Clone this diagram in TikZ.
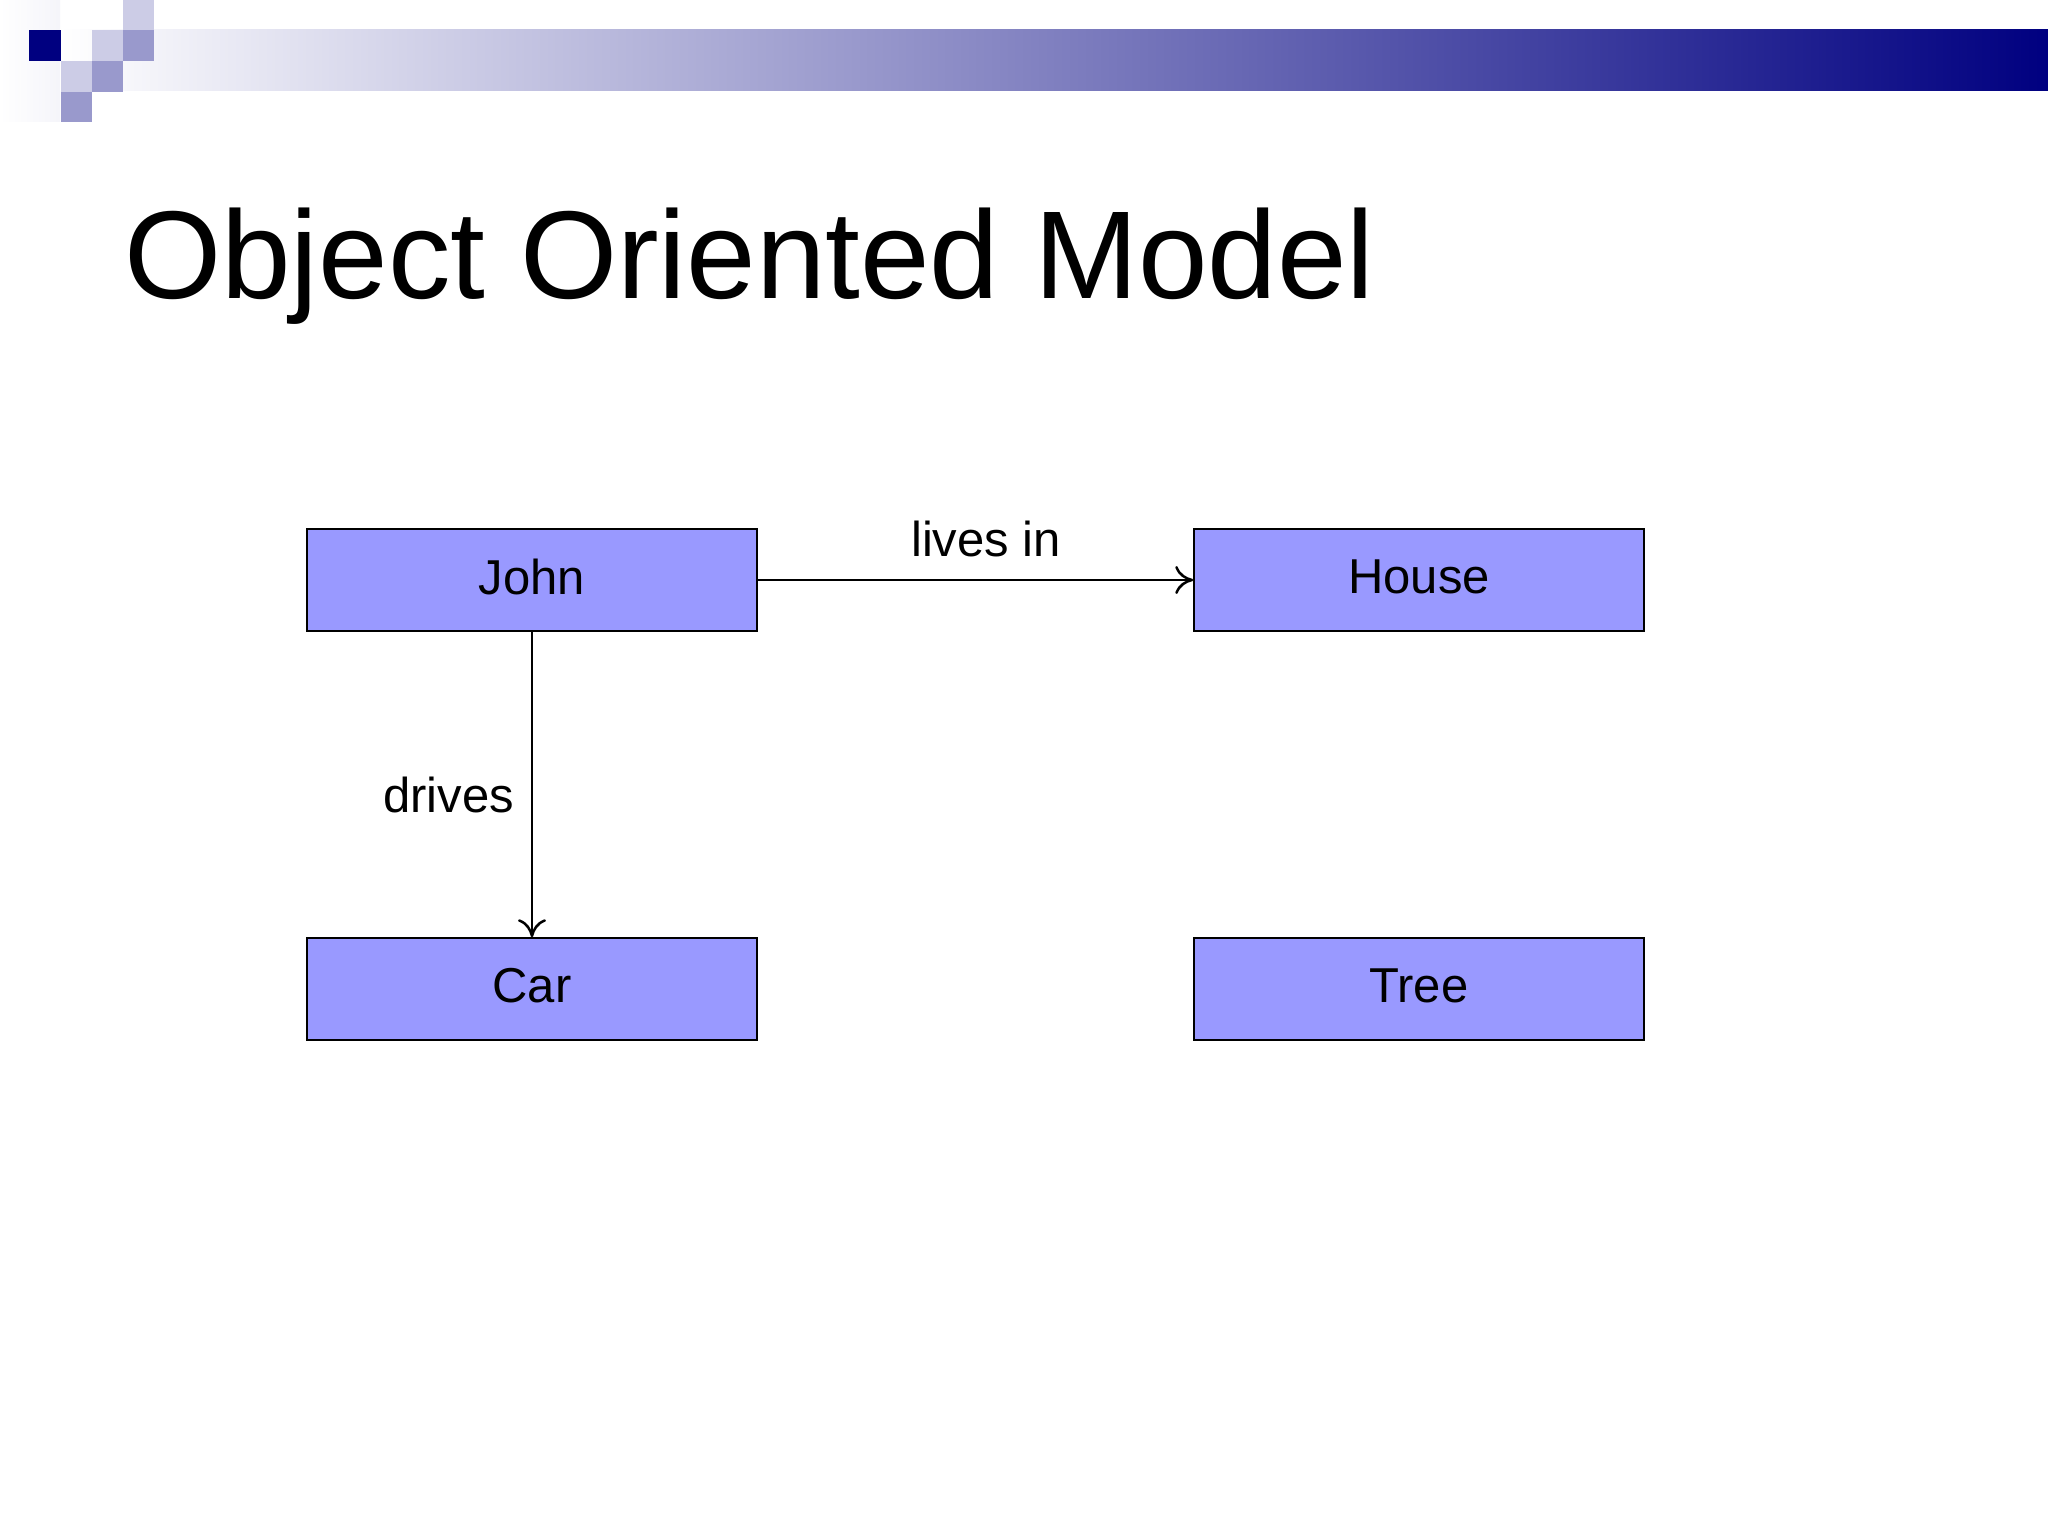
\documentclass[tikz,border=0pt]{standalone}
\usepackage{fontspec}
\setmainfont{Liberation Sans}
\usetikzlibrary{arrows.meta}
\definecolor{navy}{RGB}{0,0,128}
\definecolor{boxfill}{RGB}{153,153,255}
\definecolor{sqlight}{RGB}{204,204,230}
\definecolor{sqmed}{RGB}{153,153,204}
\begin{document}
\begin{tikzpicture}[x=1pt,y=-1pt,
  obj/.style={draw=black,line width=1.5pt,fill=boxfill,minimum width=450pt,minimum height=102pt,inner sep=0pt,font=\fontsize{49}{58}\selectfont},
  lbl/.style={font=\fontsize{49}{58}\selectfont,inner sep=0pt},
  conn/.style={line width=1.5pt,-{To[length=18pt,width=28pt,line width=2.5pt]}}]
\useasboundingbox (0,0) rectangle (2048,1536);
\fill[white] (0,0) rectangle (2048,1536);
\shade[left color=white,right color=white!90!sqmed] (0,0) rectangle (60,122);
\shade[left color=white,right color=navy] (60,30) rectangle (2048,91);
\fill[navy] (29,30) rectangle (61,61);
\fill[sqlight] (123,0) rectangle (154,30);
\fill[sqlight] (92,30) rectangle (123,61);
\fill[sqmed] (123,30) rectangle (154,61);
\fill[sqlight] (61,61) rectangle (92,92);
\fill[sqmed] (92,61) rectangle (123,92);
\fill[sqmed] (61,92) rectangle (92,122);
\node[anchor=base west,inner sep=0pt,font=\fontsize{125}{140}\selectfont] (title) at (124,298) {Object Oriented Model};
\node[obj] (john) at (532,580) {\raisebox{7pt}{John}};
\node[obj] (house) at (1419,580) {\raisebox{7pt}{House}};
\node[obj] (car) at (532,989) {\raisebox{7pt}{Car}};
\node[obj] (tree) at (1419,989) {\raisebox{7pt}{Tree}};
\draw[conn] (john) -- (house);
\draw[conn] (john) -- (car);
\node[lbl] (livesin) at (986,539) {lives in};
\node[lbl,anchor=east] (drives) at (514,795) {drives};
\end{tikzpicture}
\end{document}
